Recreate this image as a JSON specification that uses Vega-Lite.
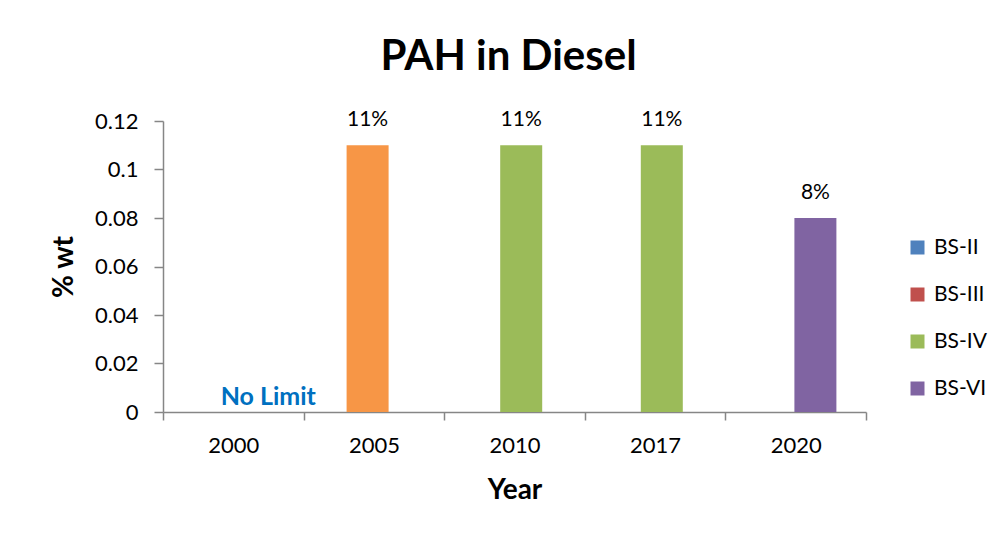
{
  "$schema": "https://vega.github.io/schema/vega-lite/v6.json",
  "autosize": {"type": "none"},
  "width": 703,
  "height": 291,
  "padding": {"left": 163, "top": 121, "right": 132, "bottom": 126},
  "background": "white",
  "title": {"text": "PAH in Diesel", "fontSize": 42, "font": "Lato", "fontWeight": "bold", "color": "#000000", "anchor": "middle", "offset": 30, "dx": -6},
  "config": {
    "view": {"stroke": null},
    "font": "Lato",
    "axis": {"domainColor": "#868686", "tickColor": "#868686", "labelColor": "#000000", "titleColor": "#000000", "labelFont": "Lato", "titleFont": "Lato", "grid": false}
  },
  "data": {"values": [
    {"year": "2005", "standard": "BS-III", "value": 0.11},
    {"year": "2010", "standard": "BS-IV", "value": 0.11},
    {"year": "2017", "standard": "BS-IV", "value": 0.11},
    {"year": "2020", "standard": "BS-VI", "value": 0.08}
  ]},
  "encoding": {
    "x": {"field": "year", "type": "nominal", "scale": {"domain": ["2000", "2005", "2010", "2017", "2020"], "paddingInner": 0, "paddingOuter": 0},
      "axis": {"title": "Year", "labelAngle": 0, "labelFontSize": 22, "titleFontSize": 28, "titleFontWeight": "bold", "tickBand": "extent", "tickSize": 8, "labelPadding": 15, "titlePadding": 20, "domainWidth": 1.5, "tickWidth": 1.5}},
    "xOffset": {"field": "standard", "type": "nominal", "scale": {"domain": ["BS-II", "BS-III", "BS-IV", "BS-VI"], "range": [44.5, 96.5], "paddingInner": 0, "paddingOuter": 0}},
    "y": {"field": "value", "type": "quantitative", "scale": {"domain": [0, 0.12], "nice": false},
      "axis": {"title": "% wt", "values": [0, 0.02, 0.04, 0.06, 0.08, 0.1, 0.12], "labelExpr": "toString(datum.value)", "labelFontSize": 22, "titleFontSize": 28, "titleFontWeight": "bold", "tickSize": 9, "labelPadding": 16, "titlePadding": 16, "domainWidth": 1.5, "tickWidth": 1.5}}
  },
  "layer": [
    {
      "mark": {"type": "bar", "width": 42},
      "encoding": {
        "color": {
          "condition": {"test": "datum.year == '2005'", "value": "#F79646"},
          "field": "standard", "type": "nominal",
          "scale": {"domain": ["BS-II", "BS-III", "BS-IV", "BS-VI"], "range": ["#4F81BD", "#C0504D", "#9BBB59", "#8064A2"]},
          "legend": {"title": null, "orient": "none", "legendX": 744, "legendY": 116, "symbolType": "square", "symbolSize": 196, "symbolStrokeWidth": 0, "labelFontSize": 21, "labelFont": "Lato", "labelColor": "#000000", "rowPadding": 25, "labelOffset": 6}
        }
      }
    },
    {
      "mark": {"type": "text", "fontSize": 21, "baseline": "alphabetic", "dy": -19, "color": "#000000"},
      "encoding": {"text": {"field": "value", "type": "quantitative", "format": ".0%"}}
    },
    {
      "data": {"values": [{"year": "2000", "note": "No Limit", "value": 0}]},
      "mark": {"type": "text", "fontSize": 25, "fontWeight": "bold", "color": "#0070C0", "baseline": "alphabetic", "dy": -7, "dx": 35},
      "encoding": {"text": {"field": "note"}, "xOffset": null}
    }
  ]
}
